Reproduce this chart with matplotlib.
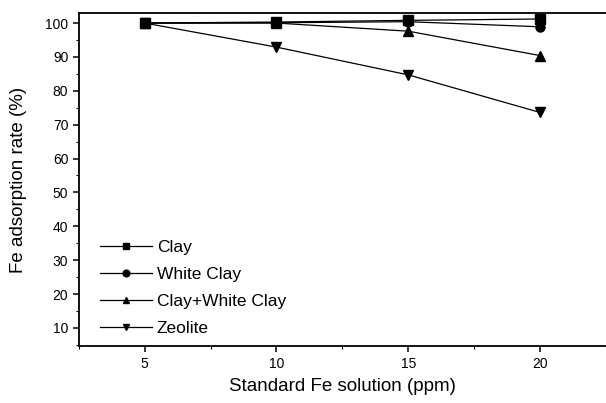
import matplotlib
matplotlib.use('Agg')
from matplotlib import pyplot as plt
from matplotlib.ticker import MultipleLocator

plt.rcParams['font.family'] = ['Liberation Sans', 'DejaVu Sans']

conc = [5, 10, 15, 20]
clay = [100, 100.3, 100.8, 101.2]
white_clay = [100, 100.1, 100.4, 98.9]
clay_white = [100, 100, 97.6, 90.4]
zeolite = [100, 92.9, 84.7, 73.6]

series = [(clay, 's', 'Clay'),
          (white_clay, 'o', 'White Clay'),
          (clay_white, '^', 'Clay+White Clay'),
          (zeolite, 'v', 'Zeolite')]

fig = plt.figure(figsize=(6.06, 4.03), dpi=100)
ax = fig.add_axes([0.130, 0.141, 0.870, 0.827])

for values, marker, label in series:
    ax.plot(conc, values, color='black', lw=0.9, marker=marker, markersize=6.5, label=label)

ax.set_xlim(2.5, 22.5)
ax.set_ylim(4.6, 103)
ax.xaxis.set_major_locator(MultipleLocator(5))
ax.xaxis.set_minor_locator(MultipleLocator(2.5))
ax.set_yticks(range(10, 101, 10))
ax.yaxis.set_minor_locator(MultipleLocator(5))
ax.tick_params(which='major', direction='out', length=4, width=1.1, labelsize=10)
ax.tick_params(which='minor', direction='out', length=2, width=0.8)
ax.spines['right'].set_visible(False)
for s in ['left', 'bottom', 'top']:
    ax.spines[s].set_linewidth(1.3)

ax.set_xlabel('Standard Fe solution (ppm)', fontsize=13.5, labelpad=5)
ax.set_ylabel('Fe adsorption rate (%)', fontsize=13.5, labelpad=13)

ax.legend(loc='lower left', frameon=False, fontsize=12.5, handlelength=3.0,
          markerscale=0.75, borderaxespad=0.4, labelspacing=0.68, handletextpad=0.3,
          bbox_to_anchor=(0.013, -0.012))

fig.savefig('out.png', dpi=100)
